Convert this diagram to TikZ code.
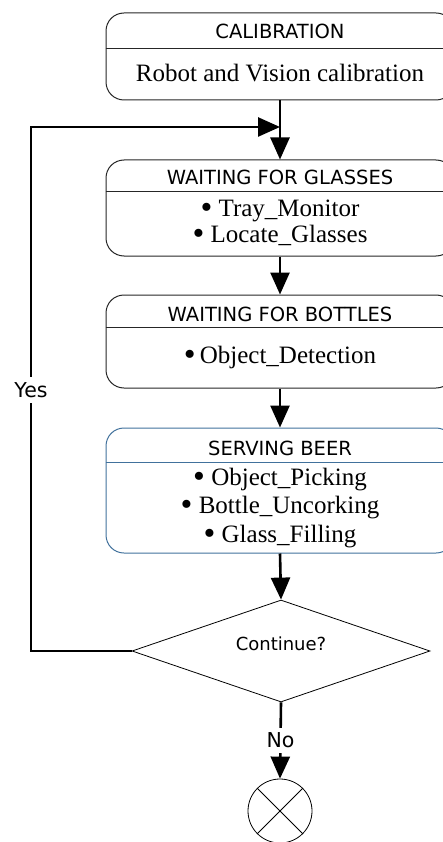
\documentclass[tikz,border=0pt]{standalone}
\usepackage{fontspec}
\setmainfont{Liberation Serif}
\newfontfamily\headfont{DejaVu Sans}
\usetikzlibrary{arrows.meta,shapes.geometric}

\definecolor{servblue}{HTML}{41719C}
\newcommand\dotmark{\raisebox{-2.8pt}{\scalebox{1.35}{\textbullet}}}

\tikzset{
  statebox/.style={draw=black!85, line width=1pt, rounded corners=18pt,
    minimum width=348pt, inner sep=0pt},
  title/.style={font=\headfont\fontsize{19.5}{23}\selectfont, anchor=base},
  item/.style={font=\fontsize{25}{28}\selectfont, anchor=base},
  flow/.style={line width=2.6pt, -{Triangle[length=22pt,width=19pt]}},
  answer/.style={font=\headfont\fontsize{20.5}{24}\selectfont, fill=white,
    inner xsep=1pt, inner ysep=5pt}
}

\begin{document}
\begin{tikzpicture}[x=1pt,y=-1pt]
    \useasboundingbox (0,0) rectangle (443,842);
    \clip (0,0) rectangle (443,842);

    % State boxes
    \node[statebox, minimum height=87pt] (cal) at (280,56.5) {};
    \node[statebox, minimum height=96pt] (glass) at (280,208) {};
    \node[statebox, minimum height=93pt] (bottle) at (280,341.5) {};
    \node[statebox, draw=servblue, minimum height=125pt] (serve) at (280,490.5) {};

    % Header lines
    \coordinate (calcut) at (0,49);
    \coordinate (glasscut) at (0,192);
    \coordinate (bottlecut) at (0,327);
    \coordinate (servecut) at (0,462);
    \draw[black!85, line width=1pt] (cal.west |- calcut) -- (cal.east |- calcut);
    \draw[black!85, line width=1pt] (glass.west |- glasscut) -- (glass.east |- glasscut);
    \draw[black!85, line width=1pt] (bottle.west |- bottlecut) -- (bottle.east |- bottlecut);
    \draw[servblue, line width=1pt] (serve.west |- servecut) -- (serve.east |- servecut);

    % Texts
    \node[title] (caltitle) at (280,39) {CALIBRATION};
    \node[item] (calitem) at (280,82) {Robot and Vision calibration};

    \node[title] (glasstitle) at (280,185) {WAITING FOR GLASSES};
    \node[item] (tray) at (280,216) {\dotmark\ Tray\_Monitor};
    \node[item] (locate) at (280,242) {\dotmark\ Locate\_Glasses};

    \node[title] (bottletitle) at (280,321) {WAITING FOR BOTTLES};
    \node[item] (detect) at (280,363) {\dotmark\,Object\_Detection};

    \node[title] (servetitle) at (280,455) {SERVING BEER};
    \node[item] (pick) at (280,485) {\dotmark\ Object\_Picking};
    \node[item] (uncork) at (280,513) {\dotmark\ Bottle\_Uncorking};
    \node[item] (fill) at (280,542) {\dotmark\ Glass\_Filling};

    % Decision and end
    \node[diamond, draw, line width=0.8pt, aspect=2.9, inner sep=0pt,
      minimum width=298pt, minimum height=102pt] (dec) at (281,651) {};
    \node[font=\headfont\fontsize{18}{21}\selectfont, anchor=base] (dectext) at (281,650) {Continue?};
    \node[circle, draw, line width=0.8pt, minimum size=64pt, inner sep=0pt] (stop) at (280,811) {};
    \draw[line width=0.8pt] (stop.north west) -- (stop.south east);
    \draw[line width=0.8pt] (stop.north east) -- (stop.south west);

    % Flow
    \coordinate (bend) at (31,127);
    \coordinate (join) at (280,127);
    \draw[flow] (cal) -- (glass);
    \draw[flow] (glass) -- (bottle);
    \draw[flow] (bottle) -- (serve);
    \draw[flow] (serve.south) -- (dec.north);
    \draw[flow] (dec.west) -| (bend) -- (join);
    \draw[flow] (dec.south) -- node[answer] (no) {No} (stop.north);
    \node[answer] (yes) at (31,390) {Yes};

\end{tikzpicture}
\end{document}
